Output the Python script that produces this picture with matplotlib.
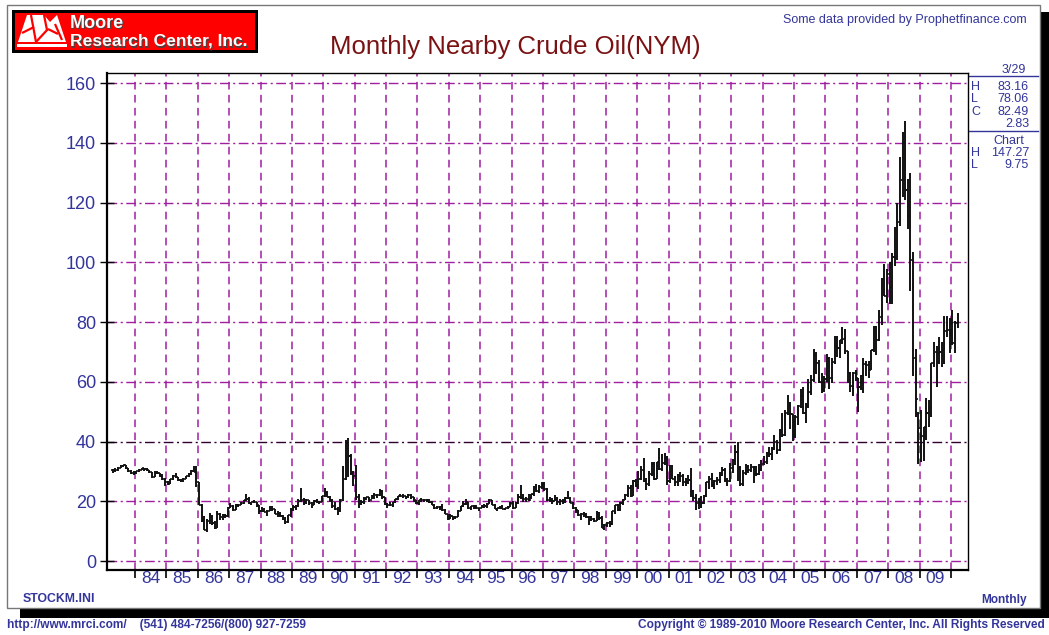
import numpy as np
import matplotlib
matplotlib.use('Agg')
import matplotlib.pyplot as plt
from matplotlib.patches import Rectangle, Polygon

plt.rcParams['font.family'] = ['Liberation Sans', 'DejaVu Sans']

# ---------------- data (monthly nearby crude oil, Apr 1983 - Mar 2010) ----------------
start_year, start_month = 1983, 4

high = [
    30.9, 31.0, 31.6, 32.0, 32.3, 32.1, 31.3, 30.6, 30.2,                      # 1983
    30.3, 30.7, 31.3, 31.2, 31.1, 30.6, 29.9, 30.0, 30.0, 29.5, 29.0, 27.8,    # 1984
    26.9, 27.6, 28.9, 29.3, 28.2, 27.4, 27.8, 28.6, 29.4, 30.4, 31.8, 31.7,    # 1985
    26.5, 19.0, 15.0, 14.0, 16.0, 15.5, 13.5, 16.6, 16.2, 15.6, 15.8, 18.0,    # 1986
    19.4, 18.7, 19.0, 19.2, 19.7, 20.5, 22.4, 21.5, 19.9, 20.4, 19.9, 18.8,    # 1987
    18.1, 17.6, 17.0, 18.5, 18.3, 17.4, 16.6, 16.3, 15.3, 14.9, 15.5, 17.6,    # 1988
    18.8, 18.9, 20.8, 24.5, 21.0, 20.8, 20.5, 19.7, 20.3, 20.9, 20.2, 21.8,    # 1989
    24.6, 23.4, 21.9, 20.6, 19.8, 18.0, 20.7, 31.9, 40.4, 41.15, 35.8, 30.0,   # 1990
    32.0, 22.3, 20.5, 21.3, 21.6, 21.4, 22.0, 22.7, 22.6, 24.2, 23.7, 21.6,    # 1991
    19.5, 19.6, 19.9, 20.9, 21.9, 22.6, 22.5, 21.9, 22.3, 22.5, 21.4, 20.3,    # 1992
    20.5, 21.0, 20.8, 20.9, 20.6, 20.2, 19.0, 18.4, 18.4, 19.1, 17.5, 15.6,    # 1993
    15.8, 15.2, 15.2, 17.2, 18.3, 20.1, 20.7, 19.7, 18.5, 18.7, 18.9, 17.8,    # 1994
    18.8, 19.1, 19.3, 20.6, 20.5, 19.1, 17.9, 18.5, 18.6, 17.7, 18.4, 19.6,    # 1995
    20.1, 19.8, 22.6, 25.5, 22.6, 21.6, 22.3, 22.6, 25.0, 25.9, 25.4, 26.5,    # 1996
    26.6, 24.4, 21.5, 21.1, 22.0, 21.3, 20.6, 20.8, 21.6, 23.4, 21.4, 19.8,    # 1997
    18.0, 17.2, 16.1, 16.4, 16.0, 15.0, 15.1, 14.5, 16.8, 16.3, 15.0, 12.4,    # 1998
    13.0, 13.3, 16.9, 18.8, 19.2, 19.6, 20.9, 22.4, 25.4, 25.4, 27.1, 27.4,    # 1999
    30.2, 31.7, 34.4, 27.7, 30.0, 33.1, 33.0, 33.3, 37.8, 35.7, 36.2, 35.1,    # 2000
    32.3, 32.0, 28.4, 29.2, 29.7, 29.0, 27.7, 28.8, 31.0, 23.9, 22.6, 21.1,    # 2001
    21.8, 22.2, 26.4, 28.4, 29.4, 27.0, 28.2, 29.8, 31.4, 31.0, 27.8, 32.7,    # 2002
    34.3, 38.8, 39.99, 31.8, 30.5, 32.6, 32.2, 32.4, 31.7, 31.7, 32.5, 33.8,   # 2003
    35.2, 36.6, 38.2, 38.3, 42.3, 40.5, 44.3, 49.4, 50.5, 55.7, 53.1, 49.2,    # 2004
    49.0, 52.3, 57.6, 58.3, 53.0, 60.9, 62.3, 70.85, 70.0, 67.3, 62.9, 61.8,   # 2005
    69.2, 68.4, 67.8, 75.4, 75.2, 73.9, 78.4, 77.8, 70.4, 63.4, 63.3, 64.0,    # 2006
    61.2, 62.4, 68.1, 67.0, 66.9, 70.7, 78.8, 78.8, 84.1, 94.7, 99.3, 97.8,    # 2007
    100.1, 103.1, 111.8, 119.9, 135.1, 143.7, 147.27, 127.8, 130.0, 103.3, 71.0, 50.0,  # 2008
    50.5, 45.0, 54.7, 54.0, 66.4, 73.4, 72.0, 75.0, 73.4, 82.0, 82.0, 81.4,    # 2009
    83.95, 80.5, 83.16,                                                         # 2010
]

low = [
    29.3, 29.9, 30.3, 31.0, 31.4, 30.7, 29.9, 29.2, 28.9,
    29.2, 29.9, 30.4, 30.3, 30.3, 29.4, 27.8, 28.2, 29.0, 28.0, 27.0, 25.1,
    25.5, 25.8, 27.2, 27.8, 26.8, 26.3, 26.6, 27.4, 28.0, 28.9, 29.8, 24.8,
    18.8, 13.0, 10.4, 9.75, 12.5, 11.9, 10.8, 10.9, 13.8, 13.9, 14.5, 14.9,
    17.6, 16.8, 17.1, 18.1, 18.6, 19.2, 20.1, 19.1, 18.9, 19.5, 18.1, 15.6,
    16.3, 16.3, 15.2, 16.7, 16.9, 15.7, 14.9, 14.9, 13.6, 12.3, 12.8, 14.9,
    16.9, 17.0, 18.0, 19.9, 18.9, 19.2, 18.9, 17.7, 18.6, 19.5, 19.2, 19.6,
    21.4, 21.4, 19.6, 17.7, 17.2, 15.5, 16.4, 20.1, 27.0, 28.0, 28.9, 25.1,
    20.4, 17.8, 18.7, 19.2, 20.3, 19.6, 20.6, 20.9, 21.1, 21.9, 20.9, 18.8,
    17.8, 18.4, 18.0, 19.4, 20.3, 21.3, 21.1, 20.9, 21.2, 20.9, 19.9, 19.0,
    18.6, 19.6, 19.9, 19.9, 19.4, 18.7, 17.4, 17.4, 17.1, 16.9, 15.7, 13.9,
    14.1, 13.9, 14.0, 14.8, 16.8, 18.0, 18.8, 17.3, 17.0, 17.4, 17.4, 16.9,
    17.6, 17.9, 17.6, 19.2, 18.6, 17.3, 16.9, 17.4, 17.5, 17.1, 17.4, 18.2,
    17.5, 17.6, 19.1, 20.8, 19.9, 19.9, 20.2, 20.9, 21.7, 23.0, 22.7, 24.2,
    23.6, 20.2, 19.8, 19.1, 20.0, 18.6, 18.9, 19.2, 19.3, 20.6, 19.4, 17.5,
    16.1, 15.2, 13.9, 14.8, 14.4, 12.0, 13.4, 12.9, 13.4, 13.9, 11.0, 10.35,
    11.3, 11.5, 12.1, 15.9, 16.7, 16.9, 18.8, 20.3, 21.6, 21.4, 21.9, 24.9,
    24.2, 27.1, 26.4, 23.9, 25.1, 28.5, 27.2, 27.5, 30.5, 30.0, 32.0, 25.3,
    26.2, 27.4, 25.2, 25.1, 26.6, 25.1, 25.0, 25.9, 21.6, 20.2, 17.1, 17.5,
    17.9, 19.2, 21.4, 24.0, 24.9, 24.0, 25.5, 26.2, 28.5, 26.6, 25.1, 26.3,
    29.4, 32.3, 26.8, 25.2, 25.1, 28.9, 29.5, 29.8, 26.0, 28.5, 28.9, 30.0,
    32.2, 32.5, 34.7, 33.9, 37.1, 35.8, 36.9, 41.4, 42.0, 48.9, 44.3, 40.3,
    41.3, 45.6, 51.2, 49.2, 46.2, 51.1, 55.5, 59.9, 62.5, 59.6, 56.1, 56.7,
    59.8, 57.6, 59.6, 66.0, 68.3, 68.1, 72.6, 69.2, 59.5, 56.6, 55.3, 60.1,
    49.9, 57.1, 56.1, 61.9, 61.4, 64.1, 70.0, 69.0, 73.8, 79.1, 88.6, 86.5,
    86.1, 86.1, 98.7, 100.7, 112.0, 122.0, 121.0, 111.3, 90.5, 62.1, 48.3, 32.4,
    33.2, 33.6, 40.5, 45.0, 48.3, 64.9, 58.3, 66.0, 65.1, 66.0, 75.0, 69.5,
    72.4, 69.5, 78.06,
]

close = [
    30.6, 30.5, 31.3, 31.7, 32.0, 31.0, 30.3, 29.6, 29.5,
    30.0, 30.5, 31.0, 30.7, 30.5, 29.8, 28.2, 29.6, 29.4, 28.4, 27.5, 26.5,
    25.9, 27.4, 28.6, 28.1, 27.1, 27.0, 27.6, 28.4, 29.1, 30.2, 29.9, 26.3,
    18.8, 13.3, 10.5, 13.3, 15.1, 12.8, 11.2, 15.8, 14.7, 15.2, 15.0, 17.9,
    18.4, 17.0, 18.8, 18.7, 19.4, 20.3, 20.9, 19.5, 19.7, 19.9, 18.6, 16.7,
    16.9, 16.5, 16.8, 17.9, 17.3, 15.9, 15.9, 15.2, 14.0, 13.0, 15.4, 17.2,
    18.0, 18.4, 20.1, 20.4, 19.9, 20.3, 19.5, 18.9, 20.1, 19.9, 19.9, 21.8,
    22.7, 21.6, 20.4, 18.4, 17.4, 17.1, 20.3, 27.3, 39.5, 35.2, 29.6, 28.4,
    21.5, 19.2, 19.6, 20.8, 21.3, 20.4, 21.7, 22.2, 22.2, 23.3, 21.5, 19.1,
    18.9, 18.7, 19.7, 20.6, 21.7, 21.9, 21.7, 21.3, 22.0, 21.6, 20.3, 19.5,
    20.3, 20.3, 20.5, 20.3, 19.6, 18.9, 17.6, 18.2, 18.1, 17.0, 15.9, 14.2,
    15.2, 14.4, 14.7, 16.9, 18.3, 19.2, 19.7, 17.6, 18.4, 18.2, 17.6, 17.8,
    18.4, 18.5, 19.2, 20.4, 18.9, 17.4, 17.6, 17.8, 17.5, 17.6, 18.2, 19.5,
    17.7, 19.5, 21.5, 21.2, 20.9, 20.9, 20.5, 22.3, 24.4, 23.4, 24.9, 25.9,
    24.2, 20.3, 20.4, 20.2, 20.9, 19.8, 20.1, 19.6, 21.2, 21.1, 19.4, 17.6,
    17.2, 15.4, 15.6, 15.4, 14.9, 13.9, 14.2, 13.5, 16.1, 14.4, 11.2, 12.1,
    12.8, 12.3, 16.8, 18.7, 17.0, 19.3, 20.5, 22.1, 24.5, 21.7, 26.8, 25.6,
    27.6, 30.4, 26.9, 25.7, 29.0, 32.5, 27.4, 33.1, 30.8, 32.7, 34.4, 26.8,
    28.7, 27.4, 26.3, 28.5, 28.4, 26.3, 26.4, 27.2, 23.4, 21.2, 19.4, 19.8,
    19.5, 21.7, 26.3, 27.3, 25.3, 26.9, 27.0, 28.9, 30.5, 27.2, 26.9, 31.2,
    33.5, 36.6, 31.0, 25.8, 29.6, 30.2, 30.5, 31.6, 29.2, 29.1, 30.4, 32.5,
    33.1, 36.2, 35.8, 37.4, 39.9, 37.1, 43.8, 42.1, 49.6, 51.8, 49.1, 43.5,
    48.2, 51.8, 55.4, 49.7, 52.0, 56.5, 60.6, 68.9, 66.2, 59.8, 57.3, 61.0,
    67.9, 61.4, 66.6, 71.9, 71.3, 73.9, 74.4, 70.3, 62.9, 58.7, 63.1, 61.1,
    58.1, 61.8, 65.9, 65.7, 64.0, 70.7, 78.2, 74.0, 81.7, 94.5, 88.7, 96.0,
    91.8, 101.8, 101.6, 113.5, 127.4, 140.0, 124.1, 115.5, 100.6, 67.8, 54.4, 44.6,
    41.7, 44.8, 49.7, 51.1, 66.3, 69.9, 69.5, 69.9, 70.6, 77.0, 77.3, 79.4,
    72.9, 79.7, 82.49,
]

year_labels = ['84', '85', '86', '87', '88', '89', '90', '91', '92', '93', '94', '95', '96',
               '97', '98', '99', '00', '01', '02', '03', '04', '05', '06', '07', '08', '09']
first_label_year = 1984
y_ticks = [0, 20, 40, 60, 80, 100, 120, 140, 160]

panel_rows = [('H', '83.16'), ('L', '78.06'), ('C', '82.49'), ('', '2.83')]
chart_rows = [('H', '147.27'), ('L', '9.75')]

# ---------------- figure ----------------
W, H = 1049, 635
NAVY = '#33359a'
PURPLE = '#a01fa0'
fig = plt.figure(figsize=(W / 100, H / 100), dpi=100)

bg = fig.add_axes([0, 0, 1, 1], zorder=0)
bg.set_xlim(0, W)
bg.set_ylim(H, 0)
bg.axis('off')

# drop shadow and frame
bg.add_patch(Rectangle((20, 12), W - 20, 606, fc='black', ec='none'))
bg.add_patch(Rectangle((7, 5), 1033, 603, fc='white', ec='#777777', lw=1.0))

# logo
bg.add_patch(Rectangle((12, 10), 246, 43, fc='black', ec='none'))
bg.add_patch(Rectangle((15, 13), 240, 37, fc='#ff0000', ec='none'))
bg.add_patch(Polygon([(18, 42), (27, 15), (44, 15), (50, 22), (57, 15), (66, 42)],
                     closed=True, fc='white', ec='none'))
bg.add_patch(Rectangle((17, 44), 50, 3, fc='white', ec='none'))
for (xa, ya, xb, yb) in [(31, 15, 36, 42), (36, 42, 48, 29), (48, 29, 58, 34),
                         (22, 33, 34, 27), (44, 15, 47, 30), (55, 24, 62, 40)]:
    bg.plot([xa, xb], [ya, yb], color='#ff0000', lw=1.6, solid_capstyle='butt')
logo_font = ['Liberation Sans Narrow', 'Liberation Sans', 'DejaVu Sans']
for dx, col in [(1.2, '#444444'), (0, 'white')]:
    bg.text(70 + dx, 28 + dx, 'Moore', color=col, fontsize=13, fontweight='bold',
            family=logo_font, va='baseline', ha='left')
    bg.text(70 + dx, 46 + dx, 'Research Center, Inc.', color=col, fontsize=12.6,
            fontweight='bold', family=logo_font, va='baseline', ha='left')

# title and captions
bg.text(515, 47, 'Monthly Nearby Crude Oil(NYM)', color='#7a1214', fontsize=18.5,
        ha='center', va='center')
bg.text(1027, 20, 'Some data provided by Prophetfinance.com', color=NAVY, fontsize=9.0,
        ha='right', va='center')
bg.text(23, 599, 'STOCKM.INI', color=NAVY, fontsize=8.8, fontweight='bold',
        ha='left', va='center')
bg.text(1027, 600, 'Monthly', color=NAVY, fontsize=8.6, fontweight='bold',
        ha='right', va='center')
bg.text(7, 625, 'http://www.mrci.com/    (541) 484-7256/(800) 927-7259', color=NAVY,
        fontsize=8.6, fontweight='bold', ha='left', va='center')
bg.text(1045, 625, 'Copyright \u00a9 1989-2010 Moore Research Center, Inc. All Rights Reserved',
        color=NAVY, fontsize=8.6, fontweight='bold', ha='right', va='center')

# right info panel
PFS = 9
bg.text(1026, 70, '3/29', color=NAVY, fontsize=PFS, ha='right', va='center')
bg.plot([968, 1038], [75.5, 75.5], color=NAVY, lw=1.0)
yy = 87
for lab, val in panel_rows:
    bg.text(971, yy, lab, color=NAVY, fontsize=PFS, ha='left', va='center')
    bg.text(1029, yy, val, color=NAVY, fontsize=PFS, ha='right', va='center')
    yy += 12.3
bg.plot([968, 1038], [130.5, 130.5], color=NAVY, lw=1.0)
bg.text(1024, 141, 'Chart', color=NAVY, fontsize=PFS, ha='right', va='center')
yy = 153
for lab, val in chart_rows:
    bg.text(971, yy, lab, color=NAVY, fontsize=PFS, ha='left', va='center')
    bg.text(1029, yy, val, color=NAVY, fontsize=PFS, ha='right', va='center')
    yy += 12

# ---------------- main axes ----------------
ax = fig.add_axes([107 / W, 1 - 570 / H, 861 / W, 497 / H], zorder=2)
ax.set_facecolor('white')

n = len(close)
x = start_year + (start_month - 1 + np.arange(n) + 0.5) / 12.0
hi = np.array(high)
lo = np.array(low)
cl = np.array(close)
op = np.concatenate([[cl[0]], cl[:-1]])

ax.vlines(x, lo, hi, color='#111111', lw=1.4, zorder=4)
ax.hlines(cl, x, x + 0.045, color='#111111', lw=1.2, zorder=4)
ax.hlines(op, x - 0.045, x, color='#111111', lw=1.2, zorder=4)

ax.set_xlim(1983.108, 2010.542)
ax.set_ylim(-3.0, 163.35)

# grid
years = np.arange(first_label_year, first_label_year + len(year_labels) + 1)
for yr in years:
    ax.axvline(yr, color=PURPLE, lw=1.1, dashes=(5, 3.5), zorder=1)
for v in y_ticks:
    col = '#300030' if v == 40 else PURPLE
    ax.axhline(v, color=col, lw=1.0, dashes=(7, 2.5, 1.5, 2.5), zorder=1)

ax.set_yticks(y_ticks)
ax.set_yticklabels([str(v) for v in y_ticks])
ax.tick_params(axis='y', direction='inout', length=10, width=1.0, color='black',
               labelcolor=NAVY, labelsize=13, pad=3)
ax.set_xticks(years)
ax.set_xticklabels([])
ax.set_xticks(years[:-1] + 0.5, minor=True)
ax.set_xticklabels(year_labels, minor=True)
ax.tick_params(axis='x', which='major', direction='out', length=6, width=1.2, color='black')
ax.tick_params(axis='x', which='minor', length=0, labelcolor=NAVY, labelsize=12.5, pad=1)

for side in ['left', 'bottom']:
    ax.spines[side].set_linewidth(1.6)
for side in ['top', 'right']:
    ax.spines[side].set_linewidth(1.0)

fig.savefig('out.png', dpi=100)
